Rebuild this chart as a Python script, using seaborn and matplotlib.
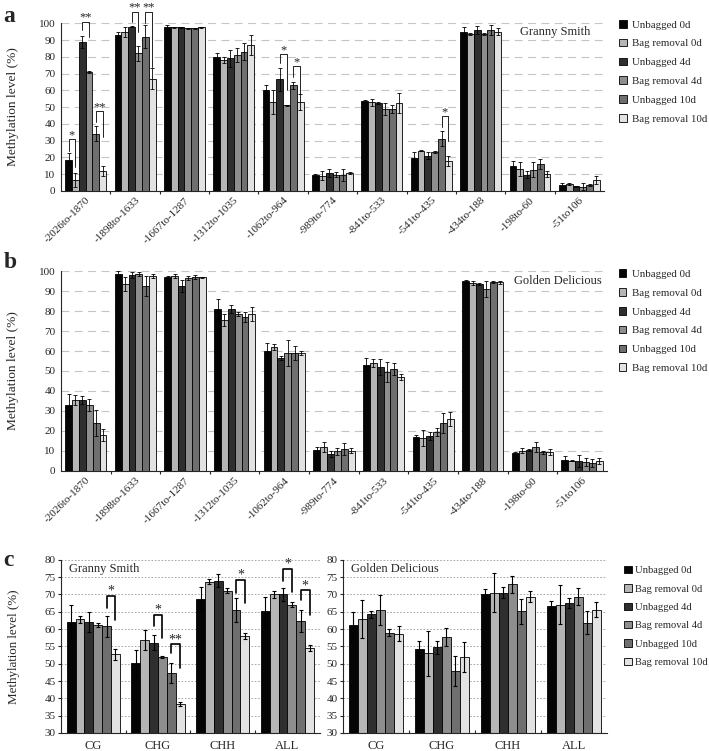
import numpy as np
import pandas as pd
import seaborn as sns
import matplotlib.pyplot as plt
from matplotlib.patches import Patch

series = ['Unbagged 0d', 'Bag removal 0d', 'Unbagged 4d', 'Bag removal 4d', 'Unbagged 10d', 'Bag removal 10d']
colors = ['#050505', '#b5b5b5', '#2f2f2f', '#8e8e8e', '#6f6f6f', '#e2e2e2']

regions = ['-2026to-1870', '-1898to-1633', '-1667to-1287', '-1312to-1035', '-1062to-964', '-989to-774',
           '-841to-533', '-541to-435', '-434to-188', '-198to-60', '-51to106']
contexts = ['CG', 'CHG', 'CHH', 'ALL']

# panel a, Granny Smith (rows = region, cols = series)
gs_region_mean = [
    [18.5, 6.5, 89, 71, 34, 12],
    [93, 95, 98, 82, 92, 67],
    [97.5, 97.5, 97.5, 97, 97, 97.5],
    [80, 78, 79, 81, 83, 87],
    [60, 53, 66.5, 51, 63, 53],
    [9.5, 9, 10.5, 9.5, 9.5, 10.5],
    [53.7, 52.7, 52.3, 48.7, 48.9, 52.3],
    [19.5, 24, 21, 23, 31, 17.5],
    [94.6, 93.8, 96, 93.8, 96, 95],
    [14.7, 13, 9.5, 12.5, 16, 10],
    [3.2, 4.2, 2.6, 2.4, 3.4, 6.4],
]
gs_region_err = [
    [4, 4, 3.5, 0.5, 4.5, 3],
    [2, 3, 0.5, 4.5, 7, 6],
    [1.5, 0.5, 0.5, 0.3, 0.3, 0.5],
    [2, 2, 5, 4, 5, 6],
    [3, 7, 7, 0.5, 2, 4.5],
    [0.5, 2.5, 2.5, 1.5, 3.5, 0.5],
    [0.5, 2, 0.5, 3.5, 2.5, 6],
    [3.5, 0.5, 2, 0.5, 4.5, 3],
    [3, 0.5, 2.5, 0.5, 3, 2],
    [3, 4, 2, 4.5, 3, 2],
    [1.5, 0.5, 0.5, 2, 0.5, 2.5],
]
# (region, bar i, bar j, bracket top, left leg end, right leg end, label)
gs_region_sig = [
    (0, 0, 1, 31, 24, 14, '*'),
    (0, 2, 3, 101, 96, 92, '**'),
    (0, 4, 5, 47.5, 41, 32, '**'),
    (1, 2, 3, 107, 101, 95, '**'),
    (1, 4, 5, 107, 100, 74, '**'),
    (4, 2, 3, 81.5, 76, 60, '*'),
    (4, 4, 5, 74.5, 68, 58, '*'),
    (7, 4, 5, 44.5, 38, 29.5, '*'),
]

# panel b, Golden Delicious
gd_region_mean = [
    [33, 35.5, 35.5, 33, 24, 18],
    [98.5, 93.5, 98, 98.5, 92.5, 97.5],
    [97, 97.5, 92.5, 96.5, 97, 97],
    [81, 75.5, 81, 78.5, 77, 78.5],
    [60, 62, 56.5, 59, 59, 59],
    [10.5, 11.8, 8.5, 9.7, 10.8, 10.2],
    [53, 54.2, 51.8, 49.7, 50.8, 47.2],
    [17, 16.3, 17.7, 19.5, 24.2, 26.2],
    [95, 94.2, 93.3, 91.2, 94.3, 94.3],
    [8.8, 10.2, 10.5, 11.8, 9.2, 9.3],
    [5.5, 5, 5, 4.5, 4, 5],
]
gd_region_err = [
    [5.5, 2.5, 2, 3, 6.5, 3],
    [1.5, 3.5, 1.5, 1, 5, 1],
    [0.5, 1, 3, 1, 1, 0.3],
    [5, 3, 2, 1, 2.5, 3.5],
    [4, 1.5, 1, 6.5, 3.5, 1],
    [1.5, 2.5, 1.5, 2, 3, 1.5],
    [3.5, 2, 4, 5, 3, 1.5],
    [1, 4, 2, 2, 5, 3.5],
    [0.5, 1, 0.5, 4, 0.5, 1],
    [0.5, 1.5, 0.5, 2.5, 1, 1.5],
    [2, 0.3, 3, 2, 2, 1.5],
]

# panel c, whole-region context levels
gs_ctx_mean = [
    [62.1, 62.9, 62.1, 61.1, 60.8, 52.8],
    [50.2, 56.8, 56.1, 52, 47.3, 38.3],
    [68.7, 73.7, 74, 71.1, 65.5, 58],
    [65.1, 70, 70, 67.1, 62.3, 54.5],
]
gs_ctx_err = [
    [5, 1, 2.8, 0.6, 3, 1.6],
    [3.8, 2.9, 2.1, 0.2, 3, 0.6],
    [3.4, 0.8, 1.8, 0.8, 3.4, 0.8],
    [4.1, 1, 1.8, 0.6, 3.1, 0.8],
]
gs_ctx_sig = [
    (0, 4, 5, 69.6, 66, 62.5, '*'),
    (1, 2, 3, 64.1, 61, 57.3, '*'),
    (1, 4, 5, 55.7, 53.2, 48.8, '**'),
    (2, 4, 5, 74.2, 70.5, 67.5, '*'),
    (3, 2, 3, 77.4, 73.8, 70.8, '*'),
    (3, 4, 5, 71.2, 68.4, 64.1, '*'),
]
gd_ctx_mean = [
    [61.2, 63, 64.3, 65.6, 59, 58.7],
    [54.2, 53, 54.7, 57.7, 47.9, 52],
    [70.1, 70.5, 70.5, 72.9, 65.1, 69.4],
    [66.8, 67.1, 67.5, 69.4, 61.9, 65.6],
]
gd_ctx_err = [
    [3.8, 5.5, 1, 4.3, 0.9, 2.2],
    [2.3, 6.5, 1.8, 2.5, 4.4, 4.4],
    [1.5, 5.7, 1.6, 2.4, 3.5, 1.6],
    [1.2, 5.6, 1.4, 2.5, 3.2, 2.2],
]

sns.set_style('ticks')
plt.rcParams['font.family'] = ['Liberation Serif', 'DejaVu Serif']
plt.rcParams['axes.linewidth'] = 0.8


def draw_bars(ax, cats, means, errs, width, elw):
    rows = []
    for ci, c in enumerate(cats):
        for si, s in enumerate(series):
            rows.append((c, s, means[ci][si], errs[ci][si]))
    df = pd.DataFrame(rows, columns=['cat', 'treatment', 'level', 'err'])
    sns.barplot(data=df, x='cat', y='level', hue='treatment', order=cats, hue_order=series,
                palette=colors, saturation=1, edgecolor='black', linewidth=0.6, width=width,
                errorbar=None, legend=False, ax=ax)
    centers = {}
    for si, cont in enumerate(list(ax.containers)):
        for ci, bar in enumerate(cont):
            x = bar.get_x() + bar.get_width() / 2
            centers[(ci, si)] = x
            ax.errorbar(x, means[ci][si], yerr=errs[ci][si], fmt='none', ecolor='black',
                        elinewidth=elw, capsize=1.6, capthick=elw, zorder=4)
    return centers


def draw_sig(ax, centers, sigs, lw, fs):
    for g, i, j, top, lb, rb, lab in sigs:
        x1, x2 = centers[(g, i)], centers[(g, j)]
        ax.plot([x1, x1, x2, x2], [lb, top, top, rb], color='black', lw=lw, clip_on=False, zorder=5)
        ax.annotate(lab, ((x1 + x2) / 2, top), xytext=(0, -1.5), textcoords='offset points',
                    ha='center', va='bottom', fontsize=fs, annotation_clip=False)


def legend_right(ax, x, y, pad=0.5, fs=7.8):
    handles = [Patch(facecolor=c, edgecolor='black', linewidth=0.6, label=s) for s, c in zip(series, colors)]
    ax.legend(handles=handles, loc='upper left', bbox_to_anchor=(x, y), frameon=False, fontsize=fs,
              handlelength=0.7, handleheight=0.7, handletextpad=pad, labelspacing=0.85, borderaxespad=0)


def region_axes(ax, title, tx):
    ax.set_ylim(0, 100)
    ax.set_xlim(-0.5, len(regions) - 0.5)
    ax.set_yticks(np.arange(0, 101, 10))
    ax.set_axisbelow(True)
    ax.yaxis.grid(True, linestyle=(0, (7, 5)), color='#c4c4c4', lw=0.8)
    ax.set_xlabel('')
    ax.set_ylabel('Methylation level (%)', fontsize=9.6)
    ax.yaxis.set_label_coords(-0.077, 0.5)
    ax.tick_params(axis='y', labelsize=8, length=0, pad=4)
    ax.tick_params(axis='x', which='major', length=0, labelsize=8)
    ax.set_xticks(np.arange(len(regions) - 1) + 0.5, minor=True)
    ax.tick_params(axis='x', which='minor', length=2.5, direction='out', width=0.8)
    plt.setp(ax.get_xticklabels(), rotation=45, ha='right', rotation_mode='anchor')
    sns.despine(ax=ax)
    ax.text(tx, 0.95, title, transform=ax.transAxes, ha='right', va='center', fontsize=9)


fig = plt.figure(figsize=(7.09, 7.51), dpi=100)

ax_a = fig.add_axes([0.086, 0.746, 0.766, 0.223])
cen = draw_bars(ax_a, regions, gs_region_mean, gs_region_err, 0.83, 0.6)
region_axes(ax_a, 'Granny Smith', 0.975)
draw_sig(ax_a, cen, gs_region_sig, 0.6, 9)
legend_right(ax_a, 1.02, 1.045)

ax_b = fig.add_axes([0.086, 0.373, 0.77, 0.266])
draw_bars(ax_b, regions, gd_region_mean, gd_region_err, 0.83, 0.6)
region_axes(ax_b, 'Golden Delicious', 0.99)
legend_right(ax_b, 1.014, 1.03)

ax_c1 = fig.add_axes([0.086, 0.024, 0.365, 0.2305])
ax_c2 = fig.add_axes([0.4838, 0.024, 0.372, 0.2305])
cen = draw_bars(ax_c1, contexts, gs_ctx_mean, gs_ctx_err, 0.82, 0.8)
draw_bars(ax_c2, contexts, gd_ctx_mean, gd_ctx_err, 0.82, 0.8)
for ax, title in [(ax_c1, 'Granny Smith'), (ax_c2, 'Golden Delicious')]:
    ax.set_ylim(30, 80)
    ax.set_xlim(-0.5, 3.5)
    ax.set_yticks(np.arange(30, 81, 5))
    ax.set_axisbelow(True)
    ax.yaxis.grid(True, linestyle=(0, (2, 2)), color='#9a9a9a', lw=0.6)
    ax.set_xlabel('')
    ax.set_ylabel('')
    ax.tick_params(axis='y', labelsize=8, length=2, pad=2)
    ax.tick_params(axis='x', which='major', length=0, labelsize=9, pad=5)
    ax.set_xticks([0.5, 1.5, 2.5], minor=True)
    ax.tick_params(axis='x', which='minor', length=2.5, direction='in', width=0.8)
    sns.despine(ax=ax)
    ax.text(0.03, 0.95, title, transform=ax.transAxes, ha='left', va='center', fontsize=9)
ax_c1.set_ylabel('Methylation level (%)', fontsize=9.4)
ax_c1.yaxis.set_label_coords(-0.16, 0.5)
draw_sig(ax_c1, cen, gs_ctx_sig, 1.2, 10)
legend_right(ax_c2, 1.05, 0.99, pad=0.35, fs=7.6)

fig.text(0.005, 0.978, 'a', fontsize=17, fontweight='bold', va='center')
fig.text(0.005, 0.651, 'b', fontsize=17, fontweight='bold', va='center')
fig.text(0.005, 0.253, 'c', fontsize=17, fontweight='bold', va='center')

fig.savefig('out.png', dpi=100)
